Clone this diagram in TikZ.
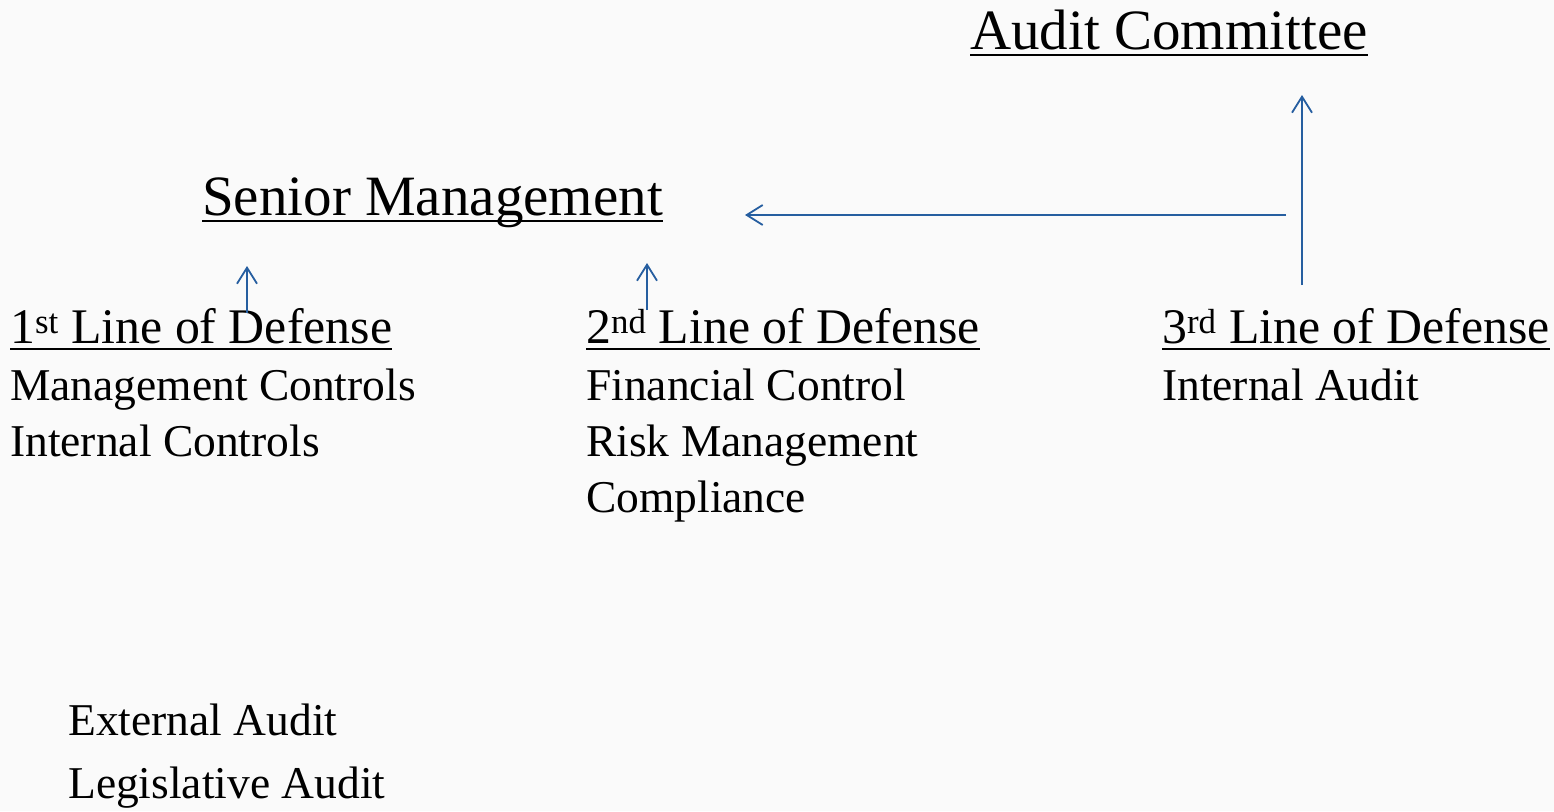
\documentclass[tikz,border=0pt]{standalone}
\usepackage{fontspec}
\setmainfont{Liberation Serif}
\usetikzlibrary{arrows.meta}
\definecolor{arrowblue}{RGB}{38,94,160}
\definecolor{bg}{RGB}{250,250,250}
\tikzset{
  head/.style={anchor=base west, inner sep=0pt, font=\fontsize{57}{60}\selectfont},
  subhead/.style={anchor=base west, inner sep=0pt, font=\fontsize{49.8}{52}\selectfont},
  body/.style={anchor=base west, inner sep=0pt, font=\fontsize{45.5}{50}\selectfont},
  uline/.style={line width=2.4pt, black},
  link/.style={draw=arrowblue, line width=1.8pt, -{Straight Barb[length=16pt, width=20pt, line width=1.8pt]}}
}
\begin{document}
\begin{tikzpicture}[x=1pt, y=1pt]
\fill[bg] (0,0) rectangle (1554,-811);
\useasboundingbox (0,0) rectangle (1554,-811);

% headings
\node[head] (ac) at (970,-49) {Audit Committee};
\node[head] (sm) at (202,-215) {Senior Management};
\node[subhead] (l1) at (10,-343) {1\textsuperscript{st} Line of Defense\ };
\node[subhead] (l2) at (586,-343) {2\textsuperscript{nd} Line of Defense};
\node[subhead] (l3) at (1162,-343) {3\textsuperscript{rd} Line of Defense};

% underlines
\draw[uline] ([yshift=-6pt]ac.base west) -- ([yshift=-6pt]ac.base east);
\draw[uline] ([yshift=-6pt]sm.base west) -- ([yshift=-6pt]sm.base east);
\draw[uline] ([yshift=-6pt]l1.base west) -- ([yshift=-6pt]l1.base east);
\draw[uline] ([yshift=-6pt]l2.base west) -- ([yshift=-6pt]l2.base east);
\draw[uline] ([yshift=-6pt]l3.base west) -- ([yshift=-6pt]l3.base east);

% body text
\node[body] (mc) at (10,-400) {Management Controls};
\node[body] (ic) at (10,-456) {Internal Controls};
\node[body] (fc) at (586,-400) {Financial Control};
\node[body] (rm) at (586,-456) {Risk Management};
\node[body] (co) at (586,-512) {Compliance};
\node[body] (ia) at (1162,-400) {Internal Audit};
\node[body] (ea) at (68,-735) {External Audit};
\node[body] (la) at (68,-798) {Legislative Audit};

% connector end points
\coordinate (a1s) at (247,-313);
\coordinate (a1e) at (247,-266);
\coordinate (a2s) at (647,-310);
\coordinate (a2e) at (647,-263);
\coordinate (hs) at (1286,-215);
\coordinate (he) at (745,-215);
\coordinate (vs) at (1302,-285);
\coordinate (ve) at (1302,-95);

\draw[link] (a1s) -- (a1e);
\draw[link] (a2s) -- (a2e);
\draw[link] (hs) -- (he);
\draw[link] (vs) -- (ve);
\end{tikzpicture}
\end{document}
